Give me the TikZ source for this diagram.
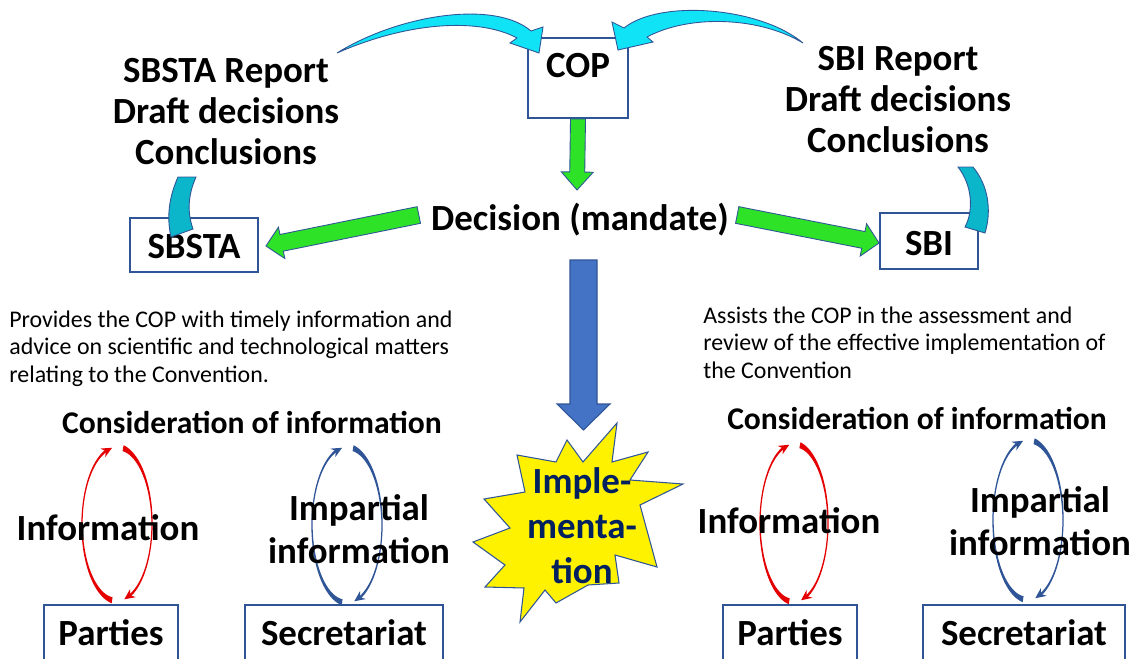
\documentclass[tikz,border=0pt]{standalone}
\usepackage{fontspec}
\setmainfont{Carlito}
\usetikzlibrary{arrows.meta,calc}

\definecolor{boxblue}{RGB}{47,85,151}
\definecolor{arrowgreen}{RGB}{46,226,40}
\definecolor{skycyan}{RGB}{17,227,247}
\definecolor{bandteal}{RGB}{11,181,202}
\definecolor{implblue}{RGB}{68,114,196}
\definecolor{implnavy}{RGB}{0,32,96}
\definecolor{loopred}{RGB}{228,0,0}
\definecolor{loopblue}{RGB}{47,85,151}

% block arrow: style, from, to, half shaft, half head, head length
\newcommand{\blockarrow}[6]{%
  \coordinate (bh) at ($(#3)!#6!(#2)$);
  \path[#1] ($(#2)!#4!90:(#3)$) -- ($(bh)!#4!-90:(#2)$) -- ($(bh)!#5!-90:(#2)$)
    -- (#3) -- ($(bh)!#5!90:(#2)$) -- ($(bh)!#4!90:(#2)$) -- ($(#2)!#4!-90:(#3)$) -- cycle;
}
% pair of tapered arcs: centre x, centre y, radius x, radius y, colour
\newcommand{\infoloop}[5]{%
  \fill[#5] plot[domain=98:255, samples=50, variable=\t]
      ({#1+(#3+taper(\t,98,262))*cos(\t)}, {#2+(#4+taper(\t,98,262))*sin(\t)})
    -- plot[domain=255:98, samples=50, variable=\t]
      ({#1+(#3-taper(\t,98,262))*cos(\t)}, {#2+(#4-taper(\t,98,262))*sin(\t)}) -- cycle;
  \draw[#5, line width=0.8pt, -{Stealth[length=6pt,width=5.5pt]}]
      ({#1+#3*cos(250)}, {#2+#4*sin(250)}) -- ({#1+#3*cos(262)}, {#2+#4*sin(262)});
  \fill[#5] plot[domain=-80:68, samples=50, variable=\t]
      ({#1+(#3+taper(\t,-80,78))*cos(\t)}, {#2+(#4+taper(\t,-80,78))*sin(\t)})
    -- plot[domain=68:-80, samples=50, variable=\t]
      ({#1+(#3-taper(\t,-80,78))*cos(\t)}, {#2+(#4-taper(\t,-80,78))*sin(\t)}) -- cycle;
  \draw[#5, line width=0.8pt, -{Stealth[length=6pt,width=5.5pt]}]
      ({#1+#3*cos(66)}, {#2+#4*sin(66)}) -- ({#1+#3*cos(78)}, {#2+#4*sin(78)});
}

\begin{document}
\begin{tikzpicture}[x=0.02cm, y=-0.02cm,
  declare function={taper(\ang,\from,\upto)=0.4+2.6*((\upto-\ang)/(\upto-\from))^4+1.2*((\ang-\from)/(\upto-\from))^4;},
  box/.style={draw=boxblue, line width=1.1pt, fill=white, inner sep=0pt, anchor=base,
    font=\fontsize{21}{24}\selectfont\bfseries},
  report/.style={align=center, anchor=base, inner sep=0pt, font=\fontsize{21}{23.3}\selectfont\bfseries},
  bigword/.style={align=center, anchor=base, inner sep=0pt, font=\fontsize{21}{24.4}\selectfont\bfseries},
  remit/.style={align=left, anchor=base west, inner sep=0pt, font=\fontsize{13.6}{15.6}\selectfont},
  consider/.style={anchor=base, inner sep=0pt, font=\fontsize{18}{20}\selectfont\bfseries},
  mandate/.style={fill=arrowgreen, draw=boxblue, line width=0.5pt},
  swoosh/.style={fill=skycyan, draw=boxblue, line width=0.5pt},
  band/.style={fill=bandteal, draw=boxblue, line width=0.5pt}]

\useasboundingbox (0,0) rectangle (1139,659);
\clip (0,0) rectangle (1139,659);

% bodies
\node[box, minimum width=2cm, text height=0.78cm, text depth=0.82cm] (cop) at (578,77) {COP};
\node[box, minimum width=2.56cm, text height=0.8cm, text depth=0.28cm] (sbsta) at (194,258) {SBSTA};
\node[box, minimum width=1.96cm, text height=0.84cm, text depth=0.28cm] (sbi) at (929,255) {SBI};
\node[box, minimum width=2.68cm, text height=0.8cm, text depth=0.6cm] (partiesL) at (111,645) {Parties};
\node[box, minimum width=3.96cm, text height=0.8cm, text depth=0.6cm] (secretL) at (344,645) {Secretariat};
\node[box, minimum width=2.68cm, text height=0.8cm, text depth=0.6cm] (partiesR) at (790,645) {Parties};
\node[box, minimum width=4.04cm, text height=0.8cm, text depth=0.6cm] (secretR) at (1024,645) {Secretariat};

% reports going up
\path[band] (178,177) .. controls (170,195) and (166,215) .. (171,237) -- (193,229)
  .. controls (187,212) and (188,195) .. (196,177) -- cycle;
\path[band] (958,167) .. controls (972,185) and (974,210) .. (965,227) -- (985,233)
  .. controls (992,210) and (988,185) .. (973,167) -- cycle;
\path[swoosh] (337,53) .. controls (400,14) and (495,0) .. (531,31) -- (543,27) -- (539,53)
  -- (510,43) -- (517,38) .. controls (480,18) and (410,21) .. (337,53) -- cycle;
\path[swoosh] (803,43) .. controls (760,7) and (660,-1) .. (624,28) -- (612,22) -- (618,50)
  -- (653,42) -- (647,37) .. controls (690,14) and (760,17) .. (803,43) -- cycle;

\node[report] (sbstarep) at (226,164) {SBSTA Report\\Draft decisions\\Conclusions};
\node[report] (sbirep) at (898,152) {SBI Report\\Draft decisions\\Conclusions};
\node[bigword] (decision) at (580,230) {Decision (mandate)};

% mandate arrows
\coordinate (mandatein) at ($(decision.base)+(-3,-40)$);
\coordinate (fromL) at ($(decision.base west)+(-12,-15)$);
\coordinate (fromR) at ($(decision.base east)+(8,-15)$);
\coordinate (toSBSTA) at ($(sbsta.east)+(7,1)$);
\coordinate (toSBI) at ($(sbi.west)+(0,2)$);
\blockarrow{mandate}{cop.south}{mandatein}{0.15cm}{0.32cm}{0.36cm}
\blockarrow{mandate}{fromL}{toSBSTA}{0.17cm}{0.32cm}{0.32cm}
\blockarrow{mandate}{fromR}{toSBI}{0.17cm}{0.33cm}{0.32cm}

% implementation
\path[fill=yellow, draw=boxblue, line width=0.6pt] (617,423) -- (612,462) -- (648,452) -- (630,480)
  -- (683,484) -- (640,505) -- (657,567) -- (615,555) -- (619,583) -- (588,585) -- (556,603)
  -- (545,590) -- (520,622) -- (524,588) -- (485,587) -- (505,565) -- (473,542) -- (510,528)
  -- (484,499) -- (525,492) -- (517,455) -- (556,462) -- (567,440) -- (583,462) -- cycle;
\node[bigword, text=implnavy, font=\fontsize{21}{25.5}\selectfont\bfseries] (impl) at (582,583) {Imple-\\menta-\\tion};
\coordinate (implfrom) at ($(decision.base)+(3.5,30)$);
\coordinate (implto) at (583.5,430);
\blockarrow{fill=implblue, draw=boxblue, line width=0.6pt}{implfrom}{implto}{0.27cm}{0.53cm}{0.52cm}

% remits
\node[remit] (sbstaremit) at (9,382) {Provides the COP with timely information and\\advice on scientific and technological matters\\relating to the Convention.};
\node[remit] (sbiremit) at (703,378) {Assists the COP in the assessment and\\review of the effective implementation of\\the Convention};

% information loops
\infoloop{117}{524}{35}{77}{loopred}
\infoloop{347}{525}{35}{78}{loopblue}
\infoloop{794}{523}{34}{79}{loopred}
\infoloop{1028}{520}{35}{80}{loopblue}

\node[consider] (considerL) at (252,433) {Consideration of information};
\node[consider] (considerR) at (917,429) {Consideration of information};
\node[bigword] (infoL) at (108,540) {Information};
\node[bigword] (infoR) at (789,533) {Information};
\node[bigword] (impartL) at (359,563) {Impartial\\information};
\node[bigword] (impartR) at (1040,555) {Impartial\\information};
\end{tikzpicture}
\end{document}
